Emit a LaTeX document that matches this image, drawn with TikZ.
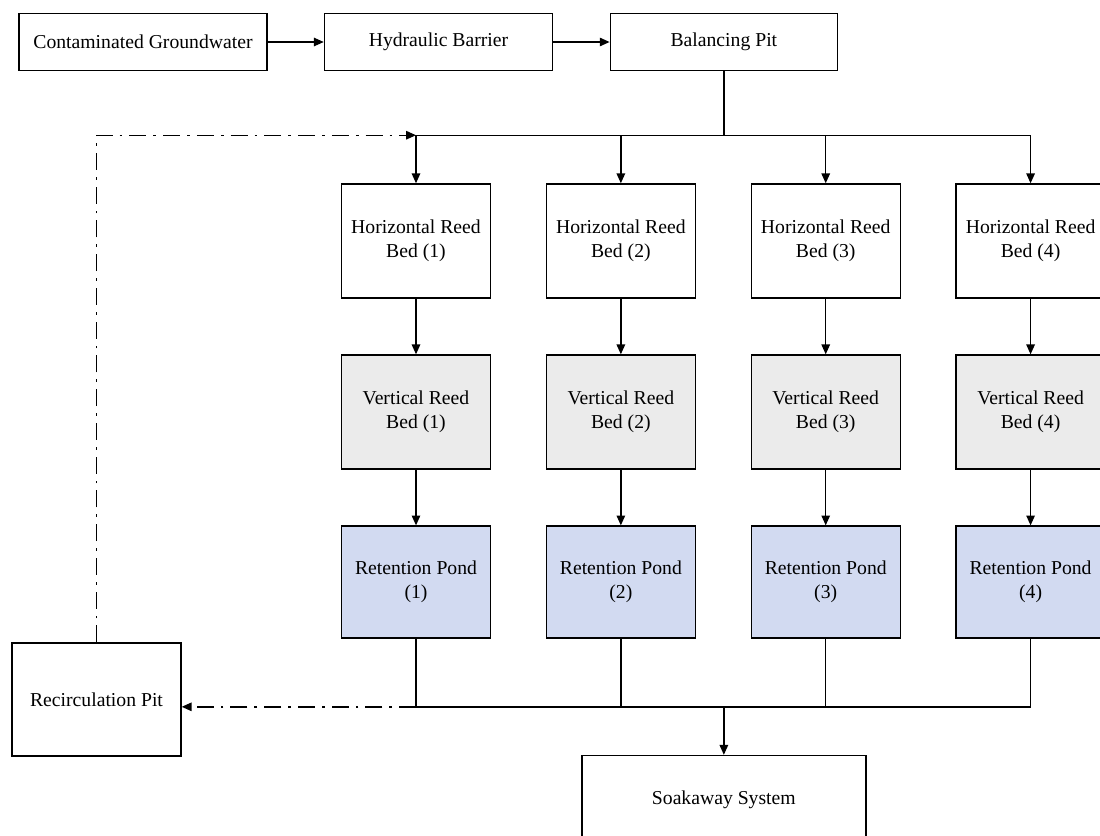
\documentclass[tikz,border=0pt]{standalone}
\usepackage{fontspec}
\setmainfont{Liberation Serif}
\usetikzlibrary{positioning, arrows.meta}
\definecolor{vertgrey}{RGB}{235,235,235}
\definecolor{pondblue}{RGB}{210,218,241}

\begin{document}
\begin{tikzpicture}[x=0.025cm, y=-0.025cm, line width=1pt, >={Triangle[length=7pt, width=6pt]}, font=\fontsize{14}{17}\selectfont, main node/.style={rectangle, draw, align=center, inner sep=2pt, minimum height=1.425cm}, bed node/.style={main node, minimum width=3.725cm, minimum height=2.85cm}, recirc line/.style={dash pattern=on 12pt off 5pt on 2pt off 5pt}]
\fill[white] (0,0) rectangle (1100,836);
\useasboundingbox (0,0) rectangle (1100,836);
\clip (0,0) rectangle (1100,836);
% top row
\node[main node, minimum width=6.2cm] (cg) at (143,42) {Contaminated Groundwater};
\node[main node, minimum width=5.7cm] (hb) [right=1.4cm of cg] {Hydraulic Barrier};
\node[main node, minimum width=5.675cm] (bp) [right=1.41cm of hb] {Balancing Pit};
\draw[->] (cg) -- (hb);
\draw[->] (hb) -- (bp);
% reed beds and ponds
\node[bed node] (h1) at (416,241) {Horizontal Reed\\Bed (1)};
\foreach \s/\t in {2/1, 3/2, 4/3}{
    \node[bed node] (h\s) [right=1.36cm of h\t] {Horizontal Reed\\Bed (\s)};}
\foreach \s in {1,...,4}{
    \node[bed node, fill=vertgrey] (v\s) [below=1.39cm of h\s] {Vertical Reed\\Bed (\s)};
    \node[bed node, fill=pondblue, minimum height=2.8cm] (r\s) [below=1.39cm of v\s] {Retention Pond\\(\s)};
    \draw[->] (h\s) -- (v\s);
    \draw[->] (v\s) -- (r\s);}
% split from balancing pit
\draw (bp.south) -- ++(0,64) coordinate (split);
\draw (h1.north |- split) -- (h4.north |- split);
\foreach \s in {1,...,4}
    \draw[->] (h\s.north |- split) -- (h\s);
% join to soakaway
\path (r1.south -| split) ++(0,68) coordinate (join);
\foreach \s in {1,...,4}
    \draw (r\s) -- (r\s.south |- join);
\draw (r1.south |- join) -- (r4.south |- join);
\node[main node, minimum width=7.1cm, minimum height=2.2cm] (soak) [below=1.2cm of join] {Soakaway System};
\draw[->] (join) -- (soak);
% recirculation
\node[main node, minimum width=4.225cm, minimum height=2.825cm] (rp) at (96.5,699.5) {Recirculation Pit};
\draw[recirc line, ->] (r1.south |- join) -- (rp.east |- join);
\draw[recirc line, ->] (rp.north) |- (h1.north |- split);
\end{tikzpicture}
\end{document}
